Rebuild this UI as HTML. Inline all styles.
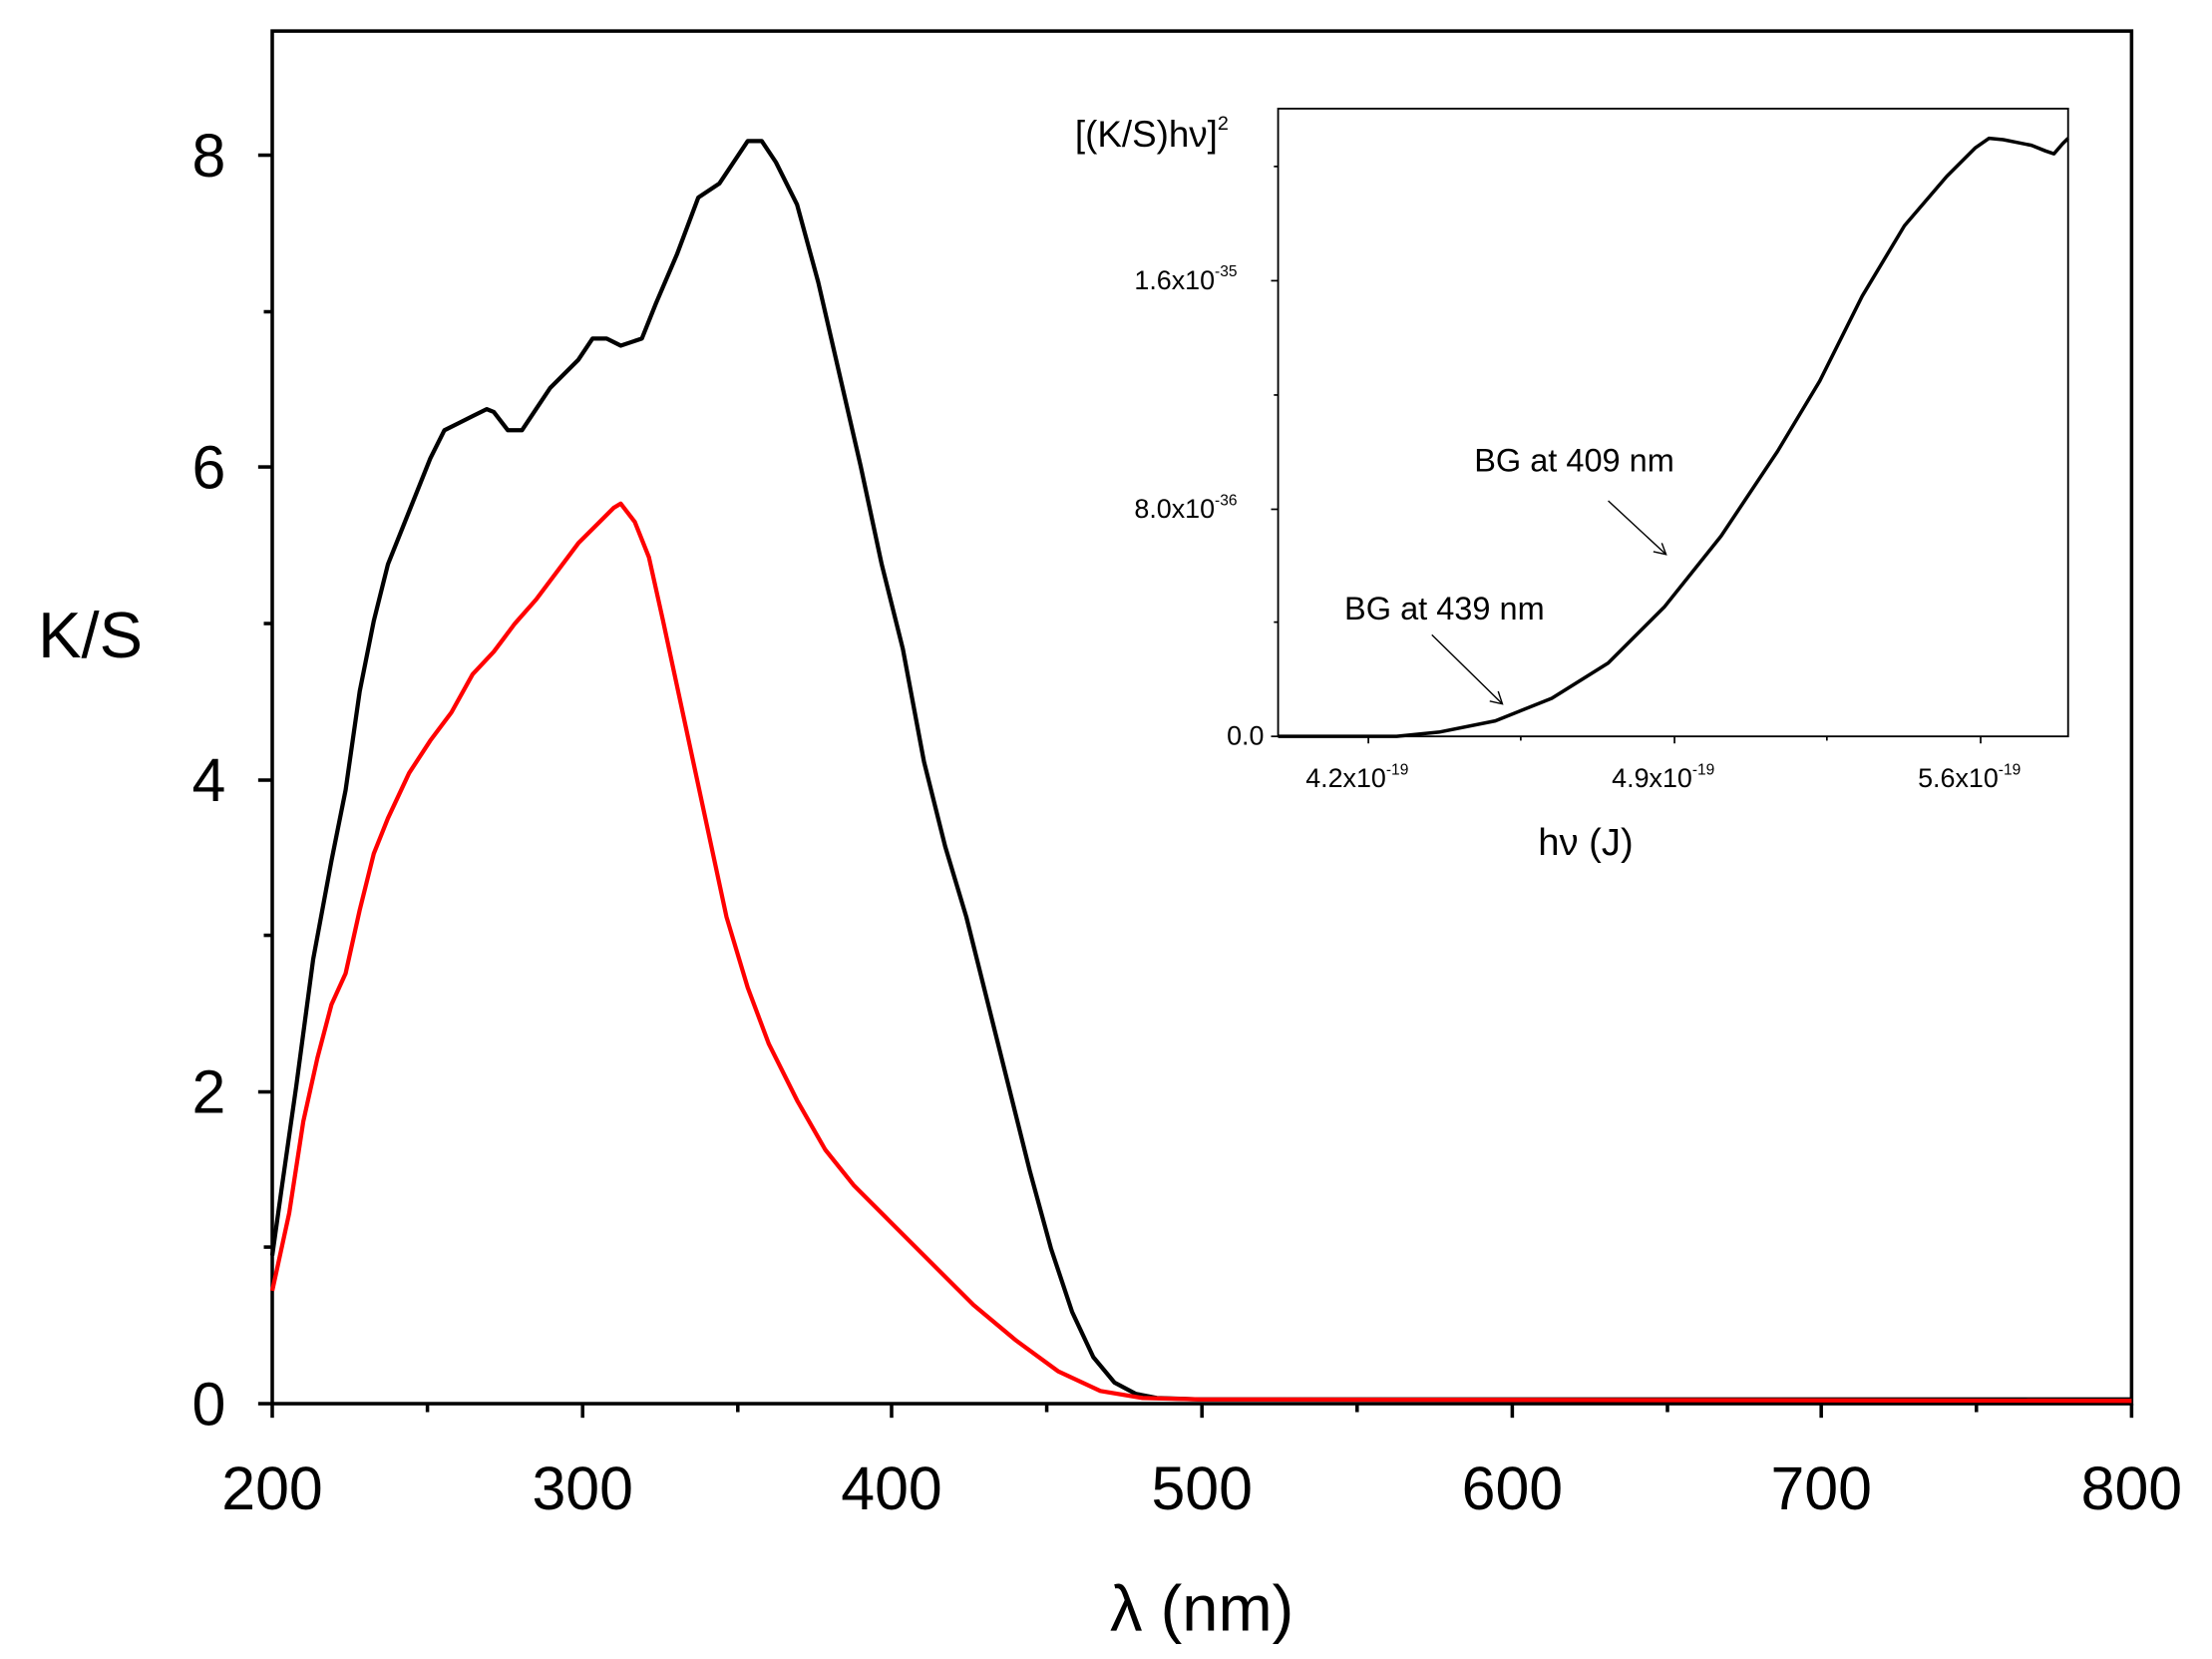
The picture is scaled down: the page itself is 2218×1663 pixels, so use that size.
<!DOCTYPE html>
<html><head><style>html,body{margin:0;padding:0;background:#fff}svg{display:block}</style></head><body>
<svg width="2218" height="1663" viewBox="0 0 1568 1176" preserveAspectRatio="none" xmlns="http://www.w3.org/2000/svg" font-family="Liberation Sans, Arial, sans-serif">
<rect width="1568" height="1176" fill="#fff"/>
<rect x="193" y="22" width="1318" height="973" fill="none" stroke="#000" stroke-width="2.5"/>
<g stroke="#000" stroke-width="2.5">
<line x1="193" y1="995" x2="193" y2="1005"/><line x1="413" y1="995" x2="413" y2="1005"/><line x1="632" y1="995" x2="632" y2="1005"/><line x1="852" y1="995" x2="852" y2="1005"/><line x1="1072" y1="995" x2="1072" y2="1005"/><line x1="1291" y1="995" x2="1291" y2="1005"/><line x1="1511" y1="995" x2="1511" y2="1005"/>
<line x1="303" y1="995" x2="303" y2="1001"/><line x1="523" y1="995" x2="523" y2="1001"/><line x1="742" y1="995" x2="742" y2="1001"/><line x1="962" y1="995" x2="962" y2="1001"/><line x1="1182" y1="995" x2="1182" y2="1001"/><line x1="1401" y1="995" x2="1401" y2="1001"/>
<line x1="183" y1="995" x2="193" y2="995"/><line x1="183" y1="774" x2="193" y2="774"/><line x1="183" y1="553" x2="193" y2="553"/><line x1="183" y1="331" x2="193" y2="331"/><line x1="183" y1="110" x2="193" y2="110"/>
<line x1="187" y1="884" x2="193" y2="884"/><line x1="187" y1="663" x2="193" y2="663"/><line x1="187" y1="442" x2="193" y2="442"/><line x1="187" y1="221" x2="193" y2="221"/>
</g>
<g font-size="43" text-anchor="middle" fill="#000">
<text x="193" y="1070">200</text><text x="413" y="1070">300</text><text x="632" y="1070">400</text><text x="852" y="1070">500</text><text x="1072" y="1070">600</text><text x="1291" y="1070">700</text><text x="1511" y="1070">800</text>
</g>
<g font-size="43" text-anchor="end" fill="#000">
<text x="160" y="1010">0</text><text x="160" y="789">2</text><text x="160" y="568">4</text><text x="160" y="346">6</text><text x="160" y="125">8</text>
</g>
<text x="64" y="466" font-size="46" text-anchor="middle">K/S</text>
<text x="852" y="1156" font-size="46" text-anchor="middle">λ (nm)</text>
<polyline fill="none" stroke="#000" stroke-width="3" stroke-linejoin="round" points="193,890 200,840 210,770 222,680 235,610 245,560 255,490 265,440 275,400 285,375 295,350 305,325 315,305 325,300 335,295 345,290 350,292 360,305 370,305 380,290 390,275 400,265 410,255 420,240 430,240 440,245 455,240 465,215 480,180 495,140 510,130 520,115 530,100 540,100 550,115 565,145 580,200 595,265 610,330 625,400 640,460 655,540 670,600 685,650 700,710 715,770 730,830 745,885 760,930 775,962 790,980 805,988 820,991 850,992 1511,992"/>
<polyline fill="none" stroke="#f00" stroke-width="3" stroke-linejoin="round" points="193,915 205,860 215,795 225,750 235,712 245,690 255,645 265,605 275,580 290,548 305,525 320,505 335,478 350,462 365,442 380,425 395,405 410,385 425,370 435,360 440,357 450,370 460,395 470,440 485,510 500,580 515,650 530,700 545,740 565,780 585,815 605,840 630,865 660,895 690,925 720,950 750,972 780,986 810,991 850,992 1511,993"/>
<rect x="906" y="77" width="560" height="445" fill="none" stroke="#000" stroke-width="1.3"/>
<g stroke="#000" stroke-width="1.2">
<line x1="901" y1="522" x2="906" y2="522"/><line x1="901" y1="361" x2="906" y2="361"/><line x1="901" y1="199" x2="906" y2="199"/>
<line x1="903" y1="441" x2="906" y2="441"/><line x1="903" y1="280" x2="906" y2="280"/><line x1="903" y1="118" x2="906" y2="118"/>
<line x1="970" y1="522" x2="970" y2="527"/><line x1="1187" y1="522" x2="1187" y2="527"/><line x1="1404" y1="522" x2="1404" y2="527"/>
<line x1="1078" y1="522" x2="1078" y2="525"/><line x1="1295" y1="522" x2="1295" y2="525"/>
</g>
<g font-size="19" text-anchor="end" fill="#000">
<text x="896" y="528">0.0</text>
<text x="877" y="367">8.0x10<tspan font-size="11" dy="-9">-36</tspan></text>
<text x="877" y="205">1.6x10<tspan font-size="11" dy="-9">-35</tspan></text>
</g>
<g font-size="19" text-anchor="middle" fill="#000">
<text x="962" y="558">4.2x10<tspan font-size="11" dy="-9">-19</tspan></text>
<text x="1179" y="558">4.9x10<tspan font-size="11" dy="-9">-19</tspan></text>
<text x="1396" y="558">5.6x10<tspan font-size="11" dy="-9">-19</tspan></text>
</g>
<text x="1124" y="606" font-size="27" text-anchor="middle">hν (J)</text>
<text x="762" y="104" font-size="26">[(K/S)hν]<tspan font-size="14" dy="-12">2</tspan></text>
<text x="1045" y="334" font-size="23">BG at 409 nm</text>
<text x="953" y="439" font-size="23">BG at 439 nm</text>
<g stroke="#000" stroke-width="1">
<line x1="1140" y1="355" x2="1181" y2="393"/><polyline points="1172,391 1181,393 1178,385" fill="none"/>
<line x1="1015" y1="450" x2="1065" y2="499"/><polyline points="1056,497 1065,499 1062,490" fill="none"/>
</g>
<polyline fill="none" stroke="#000" stroke-width="2.5" stroke-linejoin="round" points="906,522 990,522 1020,519 1060,511 1100,495 1140,470 1180,430 1220,380 1260,320 1290,270 1320,210 1350,160 1380,125 1400,105 1410,98 1420,99 1430,101 1440,103 1450,107 1456,109 1462,102 1466,98"/>
</svg>
</body></html>
